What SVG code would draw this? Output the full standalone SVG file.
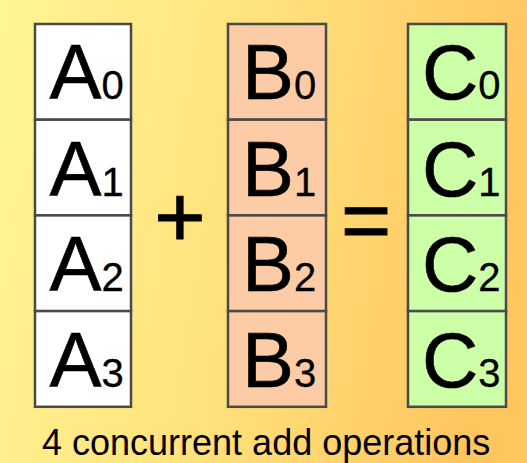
<svg xmlns="http://www.w3.org/2000/svg" width="527" height="463" viewBox="0 0 527 463">
  <defs>
    <linearGradient id="bg" x1="0" y1="0" x2="1" y2="0.15">
      <stop offset="0" stop-color="#FFF594"/>
      <stop offset="0.5" stop-color="#FFE27C"/>
      <stop offset="1" stop-color="#FFC660"/>
    </linearGradient>
  </defs>
  <style>
    .cell { stroke: #4a4a4a; stroke-width: 2.5; }
    .a { fill: #FFFFFF; }
    .b { fill: #FDCBA6; }
    .c { fill: #CCFFA8; }
    .lbl { font-family: "Liberation Sans", Arial, sans-serif; font-size: 78px; fill: #000; stroke: #000; stroke-width: 0.6; }
    .sub { font-size: 40px; stroke-width: 0.3; }
    .op { font-family: "Liberation Sans", Arial, sans-serif; fill: #000; stroke: #000; stroke-width: 1; text-anchor: middle; }
    .cap { font-family: "Liberation Sans", Arial, sans-serif; font-size: 36px; fill: #000; }
  </style>
  <rect x="0" y="0" width="527" height="463" fill="url(#bg)"/>

  <g id="A0"><rect class="cell a" x="35" y="24" width="96" height="95.7"/><text class="lbl" x="49.5" y="99">A<tspan class="sub">0</tspan></text></g>
  <g id="A1"><rect class="cell a" x="35" y="119.7" width="96" height="95.7"/><text class="lbl" x="49.5" y="195.5">A<tspan class="sub">1</tspan></text></g>
  <g id="A2"><rect class="cell a" x="35" y="215.4" width="96" height="95.7"/><text class="lbl" x="49.5" y="291">A<tspan class="sub">2</tspan></text></g>
  <g id="A3"><rect class="cell a" x="35" y="311.1" width="96" height="95.7"/><text class="lbl" x="49.5" y="386.5">A<tspan class="sub">3</tspan></text></g>

  <g id="B0"><rect class="cell b" x="228" y="24" width="98" height="95.7"/><text class="lbl" x="242" y="99">B<tspan class="sub">0</tspan></text></g>
  <g id="B1"><rect class="cell b" x="228" y="119.7" width="98" height="95.7"/><text class="lbl" x="242" y="195.5">B<tspan class="sub">1</tspan></text></g>
  <g id="B2"><rect class="cell b" x="228" y="215.4" width="98" height="95.7"/><text class="lbl" x="242" y="291">B<tspan class="sub">2</tspan></text></g>
  <g id="B3"><rect class="cell b" x="228" y="311.1" width="98" height="95.7"/><text class="lbl" x="242" y="386.5">B<tspan class="sub">3</tspan></text></g>

  <g id="C0"><rect class="cell c" x="408" y="24" width="98" height="95.7"/><text class="lbl" x="422" y="99">C<tspan class="sub">0</tspan></text></g>
  <g id="C1"><rect class="cell c" x="408" y="119.7" width="98" height="95.7"/><text class="lbl" x="422" y="195.5">C<tspan class="sub">1</tspan></text></g>
  <g id="C2"><rect class="cell c" x="408" y="215.4" width="98" height="95.7"/><text class="lbl" x="422" y="291">C<tspan class="sub">2</tspan></text></g>
  <g id="C3"><rect class="cell c" x="408" y="311.1" width="98" height="95.7"/><text class="lbl" x="422" y="386.5">C<tspan class="sub">3</tspan></text></g>

  <g id="plus"><text class="op" x="180" y="247" font-size="88">+</text></g>
  <g id="equals"><text class="op" x="366" y="249" font-size="86">=</text></g>

  <g id="connectors"></g>

  <g id="caption"><text class="cap" x="42" y="455">4 concurrent add operations</text></g>
</svg>
